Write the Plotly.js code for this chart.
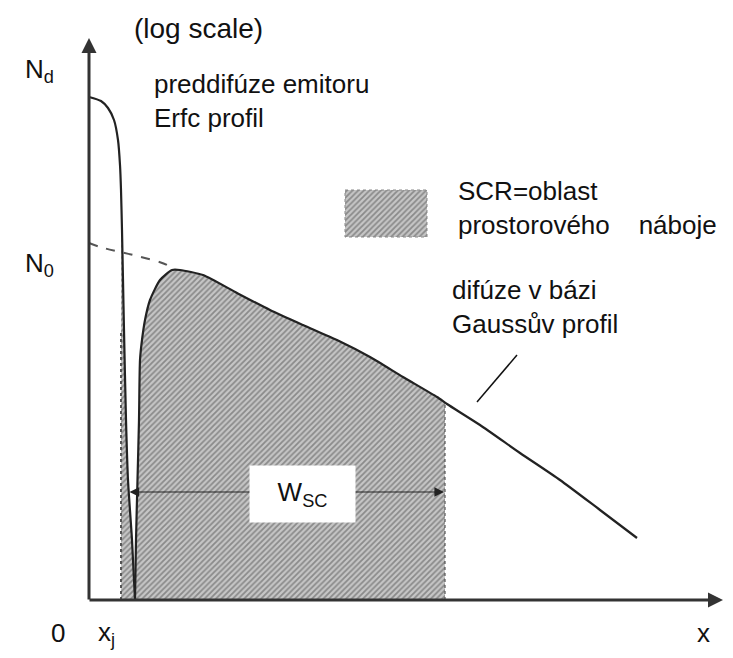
<!DOCTYPE html>
<html>
<head>
<meta charset="utf-8">
<script src="https://cdn.plot.ly/plotly-3.0.1.min.js"></script>
<style>html,body{margin:0;padding:0;background:#fff;}#chart{width:733px;height:658px;}</style>
</head>
<body>
<div id="chart"></div>
<script>
// Emitter pre-diffusion (erfc profile), log-scale units
const emitterX = [0, 1.2, 1.9, 2.5, 2.9, 3.1, 3.2, 3.3, 3.4, 3.5, 3.7, 3.9, 4.3, 4.6];
const emitterY = [50.3, 49.9, 49.2, 48.0, 46.0, 43.5, 41.0, 37.0, 32.0, 27.0, 18.0, 12.0, 6.0, 0];
// Net doping rising on the base side of the junction
const baseRiseX = [4.6, 4.7, 4.85, 5.0, 5.1, 5.3, 5.6, 6.1, 7.1, 8.3];
const baseRiseY = [0, 6, 12, 18, 24, 26, 28, 30, 32, 33.0];
// Base diffusion (Gaussian profile)
const gaussX = [9.1, 11.4, 14.8, 18.1, 21.4, 24.8, 28.1, 31.4, 34.8, 35.8, 39.1, 43.1, 47.1, 51.1, 54.8];
const gaussY = [33.0, 32.5, 30.7, 29.0, 27.5, 26.0, 24.3, 22.3, 20.3, 19.6, 17.5, 14.7, 12.0, 9.0, 6.2];
// Gaussian continued under the emitter (dashed)
const gaussHiddenX = [0, 1.1, 4.4, 7.8, 8.3];
const gaussHiddenY = [35.7, 35.3, 34.5, 33.5, 33.0];
// Space-charge region limits
const scrLeft = 3.2;
const scrRight = 35.6;
// Level labels
const levelNd = 50.3;
const levelN0 = 35.7;

const baseX = baseRiseX.concat(gaussX);
const baseY = baseRiseY.concat(gaussY);

function interp(xs, ys, x) {
  for (let i = 0; i < xs.length - 1; i++) {
    if (x >= xs[i] && x <= xs[i + 1]) {
      const t = (x - xs[i]) / (xs[i + 1] - xs[i]);
      return ys[i] + t * (ys[i + 1] - ys[i]);
    }
  }
  return ys[ys.length - 1];
}

// SCR polygon under the net-doping curve
const scrX = [scrLeft], scrY = [0];
scrX.push(scrLeft); scrY.push(interp(emitterX, emitterY, scrLeft));
emitterX.forEach((x, i) => { if (x > scrLeft) { scrX.push(x); scrY.push(emitterY[i]); } });
baseX.forEach((x, i) => { if (x > emitterX[emitterX.length - 1] && x < scrRight) { scrX.push(x); scrY.push(baseY[i]); } });
const yRight = interp(baseX, baseY, scrRight);
scrX.push(scrRight); scrY.push(yRight);
scrX.push(scrRight); scrY.push(0);
scrX.push(scrLeft); scrY.push(0);

const hatch = {shape: '/', bgcolor: '#c6c6c6', fgcolor: '#8a8a8a', size: 4, solidity: 0.45};
const ink = '#222';

const traces = [
  {x: scrX, y: scrY, mode: 'lines', fill: 'toself', fillcolor: '#b4b4b4', fillpattern: hatch,
   line: {width: 0}, hoverinfo: 'skip'},
  // legend swatch
  {x: [25.6, 33.8, 33.8, 25.6, 25.6], y: [41.0, 41.0, 36.3, 36.3, 41.0], mode: 'lines', fill: 'toself',
   fillcolor: '#b4b4b4', fillpattern: hatch, line: {width: 1, color: '#888', dash: 'dot'}, hoverinfo: 'skip'},
  {x: [scrLeft, scrLeft], y: [0, 27], mode: 'lines', line: {width: 2, color: '#555', dash: 'dot'}, hoverinfo: 'skip'},
  {x: [scrRight, scrRight], y: [0, yRight], mode: 'lines', line: {width: 1.2, color: '#555', dash: 'dot'}, hoverinfo: 'skip'},
  {x: gaussHiddenX, y: gaussHiddenY, mode: 'lines', line: {width: 2, color: '#555', dash: 'dash', shape: 'spline'}, hoverinfo: 'skip'},
  {x: emitterX, y: emitterY, mode: 'lines', line: {width: 2.2, color: ink, shape: 'spline', smoothing: 0.6}, hoverinfo: 'skip'},
  {x: baseX, y: baseY, mode: 'lines', line: {width: 2.2, color: ink, shape: 'spline', smoothing: 0.6}, hoverinfo: 'skip'},
  // leader line for Gaussian label
  {x: [42.8, 38.8], y: [24.5, 19.8], mode: 'lines', line: {width: 1.5, color: '#111'}, hoverinfo: 'skip'}
];

const font = {family: 'Liberation Sans, Arial, sans-serif', size: 26, color: '#111'};
function txt(text, x, y, xanchor, extra) {
  return Object.assign({text: text, x: x, y: y, xref: 'x', yref: 'y', showarrow: false,
    xanchor: xanchor, yanchor: 'middle', align: 'left', font: font}, extra || {});
}
function arrow(x, y, ax, ay, opts) {
  return Object.assign({text: '', x: x, y: y, ax: ax, ay: ay, xref: 'x', yref: 'y', axref: 'x', ayref: 'y',
    showarrow: true, arrowhead: 2, arrowsize: 1, arrowwidth: 3, arrowcolor: '#333', standoff: 0, startstandoff: 0}, opts || {});
}

const annotations = [
  arrow(0, 56.2, 0, -0.1),
  arrow(63.4, 0, -0.1, 0),
  arrow(35.5, 10.8, 3.9, 10.8, {arrowside: 'end+start', arrowwidth: 1.2, arrowsize: 1.6, arrowcolor: '#222'}),
  txt('W<sub>SC</sub>', 21.3, 10.6, 'center', {bgcolor: '#fff', width: 103, height: 54, align: 'center'}),
  txt('(log scale)', 10.9, 57.2, 'center', {font: Object.assign({}, font, {size: 28})}),
  txt('N<sub>d</sub>', -6.6, levelNd + 2.7, 'left'),
  txt('N<sub>0</sub>', -6.6, levelN0 - 2.1, 'left'),
  txt('preddifúze emitoru<br>Erfc profil', 6.3, 49.9, 'left'),
  txt('SCR=oblast<br>prostorového\u00a0\u00a0\u00a0 náboje', 36.7, 39.2, 'left'),
  txt('difúze v bázi<br>Gaussův profil', 36.1, 29.3, 'left'),
  txt('0', -3.1, -3.3, 'center'),
  txt('x<sub>j</sub>', 0.7, -3.3, 'left'),
  txt('x', 61.4, -3.3, 'center')
];

const hidden = {visible: false, showgrid: false, zeroline: false, fixedrange: true};
const layout = {
  width: 733, height: 658,
  margin: {l: 0, r: 0, t: 0, b: 0},
  paper_bgcolor: '#fff', plot_bgcolor: '#fff',
  showlegend: false,
  xaxis: Object.assign({range: [-8.9, 64.4]}, hidden),
  yaxis: Object.assign({range: [-5.8, 60.0]}, hidden),
  annotations: annotations,
  font: font
};

Plotly.newPlot('chart', traces, layout, {displayModeBar: false, staticPlot: true});
</script>
</body>
</html>
